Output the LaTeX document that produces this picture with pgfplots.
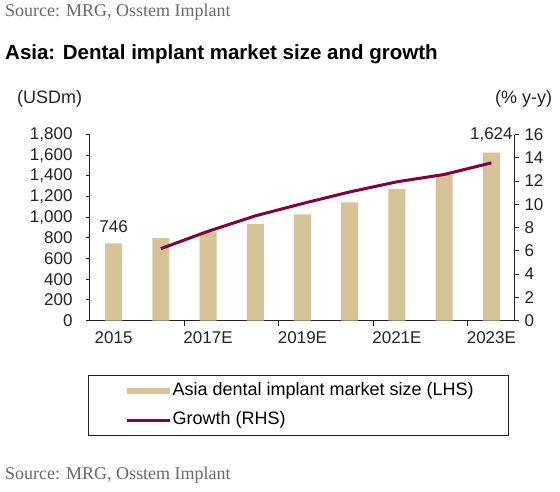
\documentclass[border=0pt]{standalone}
\usepackage{pgfplots}
\pgfplotsset{compat=1.18}
\usepackage{fontspec}
\setmainfont{Liberation Sans}
\newfontfamily\srcfont{Liberation Serif}

\definecolor{barcol}{RGB}{214,196,152}
\definecolor{growcol}{RGB}{128,0,64}
\definecolor{srcgray}{RGB}{105,105,105}
\definecolor{axcol}{RGB}{35,35,35}

\pgfplotsset{
  dualaxis/.style={
    at={(90pt,-320.5pt)}, anchor=south west,
    width=425pt, height=186pt, scale only axis,
    xmin=-0.5, xmax=8.5,
    tick align=outside,
    major tick length=4pt,
    axis line style={axcol, line width=1pt},
    tick style={axcol, line width=1pt},
    ticklabel style={font=\fontsize{17}{20}\selectfont, text=axcol},
    /pgf/number format/assume math mode=true,
    /pgf/number format/1000 sep={,},
  }
}

\begin{document}
\begin{tikzpicture}[x=1pt,y=1pt]
\path[use as bounding box, fill=white] (0,0) rectangle (560,-492);

% header and footer texts
\node[anchor=base west, inner sep=0, text=srcgray, font=\srcfont\fontsize{18}{21}\selectfont] at (5,-17) {Source: MRG, Osstem Implant};
\node[anchor=base west, inner sep=0, font=\bfseries\fontsize{20.5}{24}\selectfont] at (5,-60) {Asia: Dental implant market size and growth};
\node[anchor=base west, inner sep=0, text=axcol, font=\fontsize{18}{21}\selectfont] at (17,-103.5) {(USDm)};
\node[anchor=base west, inner sep=0, text=axcol, font=\fontsize{18}{21}\selectfont] at (495,-103.5) {(\% y-y)};
\node[anchor=base west, inner sep=0, text=srcgray, font=\srcfont\fontsize{18}{21}\selectfont] at (5,-479) {Source: MRG, Osstem Implant};

% market size, left axis
\begin{axis}[dualaxis,
    ymin=0, ymax=1800, ytick={0,200,...,1800},
    axis x line*=bottom, axis y line*=left,
    xtick={0,2,4,6,8},
    xticklabels={2015,2017E,2019E,2021E,2023E},
    major x tick style={draw=none},
    minor xtick={1.5,3.5,5.5,7.5},
    minor tick length=5pt,
    yticklabel style={xshift=-10pt},
    xticklabel style={yshift=-4pt},
    ybar, bar width=17pt,
    nodes near coords, point meta=explicit symbolic,
    nodes near coords style={font=\fontsize{17}{20}\selectfont, text=axcol, yshift=7pt},
]
\addplot[fill=barcol, draw=none] coordinates {
  (0,746)[746] (1,797)[] (2,858)[] (3,932)[] (4,1026)[]
  (5,1142)[] (6,1271)[] (7,1407)[] (8,1624)[1,624]
};
\end{axis}

% growth, right axis
\begin{axis}[dualaxis,
    ymin=0, ymax=16, ytick={0,2,...,16},
    axis x line=none, axis y line*=right,
    yticklabel style={xshift=2pt},
    legend cell align=left,
    legend image code/.code={\draw[#1] (0pt,0pt) -- (43pt,0pt);},
    legend style={at={(-0.0047,-0.293)}, anchor=north west,
      draw=axcol, line width=1.3pt, fill=white,
      inner xsep=35pt, inner ysep=7pt, row sep=12pt,
      font=\fontsize{18}{21}\selectfont,
      nodes={inner sep=0pt, text height=13pt, text depth=4pt},
      /tikz/every even column/.append style={column sep=6pt}},
]
\addlegendimage{draw=barcol, line width=6pt}
\addlegendentry{Asia dental implant market size (LHS)}
\addplot[growcol, line width=3pt, mark=none] coordinates {
  (1,6.18) (2,7.67) (3,9.0) (4,10.06) (5,11.06) (6,11.93) (7,12.56) (8,13.56)
};
\addlegendentry{Growth (RHS)}
\end{axis}
\end{tikzpicture}
\end{document}
